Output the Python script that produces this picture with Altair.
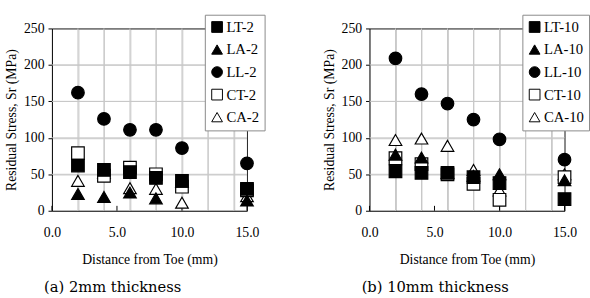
import altair as alt
import pandas as pd

distances = [2, 4, 6, 8, 10, 15]
series_2 = ["LT-2", "LA-2", "LL-2", "CT-2", "CA-2"]
series_10 = ["LT-10", "LA-10", "LL-10", "CT-10", "CA-10"]

# 2 mm thickness
lt_2 = [62, 56, 53, 45, 41, 30]
la_2 = [23, 19, 25, 17, 40, 14]
ll_2 = [162, 126, 111, 111, 86, 65]
ct_2 = [79, 48, 59, 50, 33, 28]
ca_2 = [41, 52, 31, 30, 11, 20]

# 10 mm thickness
lt_10 = [54, 52, 52, 46, 38, 16]
la_10 = [77, 73, 52, 48, 50, 42]
ll_10 = [209, 160, 147, 125, 98, 70]
ct_10 = [72, 64, 50, 37, 15, 46]
ca_10 = [97, 99, 89, 56, 28, 50]

y_ticks = [0, 50, 100, 150, 200, 250]
x_labels = [0, 5, 10, 15]
x_grid = [2, 4, 6, 8, 10, 12, 14]
y_grid = [50, 100, 150, 200]

shapes = ["square", "triangle-up", "circle", "square", "triangle-up"]
fills = ["black", "black", "black", "white", "white"]

FONT = "Liberation Serif"
GRID = "#c8c8c8"
W, H = 199, 186


def make_frame(names, values):
    rows = []
    # draw order: last legend entry first so LT ends up on top
    for name, vals in reversed(list(zip(names, values))):
        for d, v in zip(distances, vals):
            rows.append({"dist": d, "stress": v, "series": name})
    return pd.DataFrame(rows)


def panel(names, values, caption):
    df = make_frame(names, values)
    xs = alt.Scale(domain=[0, 15], nice=False, zero=True)
    ys = alt.Scale(domain=[0, 250], nice=False)

    x_axis = alt.Axis(
        values=x_labels,
        format=".1f",
        grid=False,
        ticks=False,
        labelFlush=False,
        labelOverlap=False,
        domainColor="black",
        labelFont=FONT,
        labelFontSize=14,
        labelColor="black",
        labelPadding=15,
        title="Distance from Toe (mm)",
        titleFont=FONT,
        titleFontSize=14,
        titleFontWeight="normal",
        titleColor="black",
        titlePadding=14,
    )
    y_axis = alt.Axis(
        values=y_ticks,
        grid=False,
        ticks=True,
        tickSize=4,
        tickColor="black",
        labelFlush=False,
        labelOverlap=False,
        domainColor="black",
        labelFont=FONT,
        labelFontSize=14,
        labelColor="black",
        labelPadding=4,
        title="Residual Stress, Sr (MPa)",
        titleFont=FONT,
        titleFontSize=14,
        titleFontWeight="normal",
        titleColor="black",
        titlePadding=5,
    )
    # grid-only axes on the opposite sides: their domains close the frame
    x_grid_axis = alt.Axis(
        orient="top", values=x_grid, grid=True, gridColor=GRID, gridWidth=1,
        labels=False, ticks=False, domain=True, domainColor="#222222", title=None,
    )
    y_grid_axis = alt.Axis(
        orient="right", values=y_grid, grid=True, gridColor=GRID, gridWidth=1,
        labels=False, ticks=False, domain=True, domainColor="#222222", title=None,
    )

    legend = alt.Legend(
        title=None,
        orient="none",
        legendX=156,
        legendY=-14,
        padding=5,
        strokeColor="#888888",
        fillColor="white",
        labelFont=FONT,
        labelFontSize=15,
        labelColor="black",
        symbolSize=120,
        symbolStrokeWidth=1,
        rowPadding=7,
        labelOffset=2,
    )

    vgrid = alt.Chart(pd.DataFrame({"gx": x_grid})).mark_rule(
        color=GRID, strokeWidth=1
    ).encode(x=alt.X("gx:Q", scale=xs, axis=x_grid_axis))
    hgrid = alt.Chart(pd.DataFrame({"gy": y_grid})).mark_rule(
        color=GRID, strokeWidth=1
    ).encode(y=alt.Y("gy:Q", scale=ys, axis=y_grid_axis))
    ticks = alt.Chart(pd.DataFrame({"tx": x_labels})).mark_rule(
        color="black", strokeWidth=1
    ).encode(x=alt.X("tx:Q", scale=xs, axis=None), y=alt.value(H), y2=alt.value(H - 5))

    pts = alt.Chart(df).mark_point(
        filled=False, size=165, strokeWidth=1.2, opacity=1
    ).encode(
        x=alt.X("dist:Q", scale=xs, axis=x_axis),
        y=alt.Y("stress:Q", scale=ys, axis=y_axis),
        shape=alt.Shape("series:N", scale=alt.Scale(domain=names, range=shapes), legend=legend),
        fill=alt.Fill("series:N", scale=alt.Scale(domain=names, range=fills), legend=legend),
        stroke=alt.Stroke("series:N", scale=alt.Scale(domain=names, range=["black"] * 5), legend=legend),
    )

    return alt.layer(vgrid, hgrid, ticks, pts).resolve_axis(
        x="independent", y="independent"
    ).properties(
        width=W,
        height=H,
        title=alt.TitleParams(
            caption,
            orient="bottom",
            anchor="start",
            frame="group",
            font="DejaVu Serif",
            fontSize=15,
            fontWeight="normal",
            color="black",
            offset=14,
            dx=-8,
        ),
    )


left = panel(series_2, [lt_2, la_2, ll_2, ct_2, ca_2], "(a)  2mm thickness")
right = panel(series_10, [lt_10, la_10, ll_10, ct_10, ca_10], "(b)  10mm thickness")

chart = alt.hconcat(left, right, spacing=125, bounds="flush").resolve_scale(
    shape="independent", fill="independent", stroke="independent"
).configure_view(stroke="black", strokeWidth=1).configure(
    padding={"left": 4, "top": 11, "right": 0, "bottom": 0}
).properties(background="white")

chart.save("out.html", embed_options={"renderer": "svg", "actions": False})
